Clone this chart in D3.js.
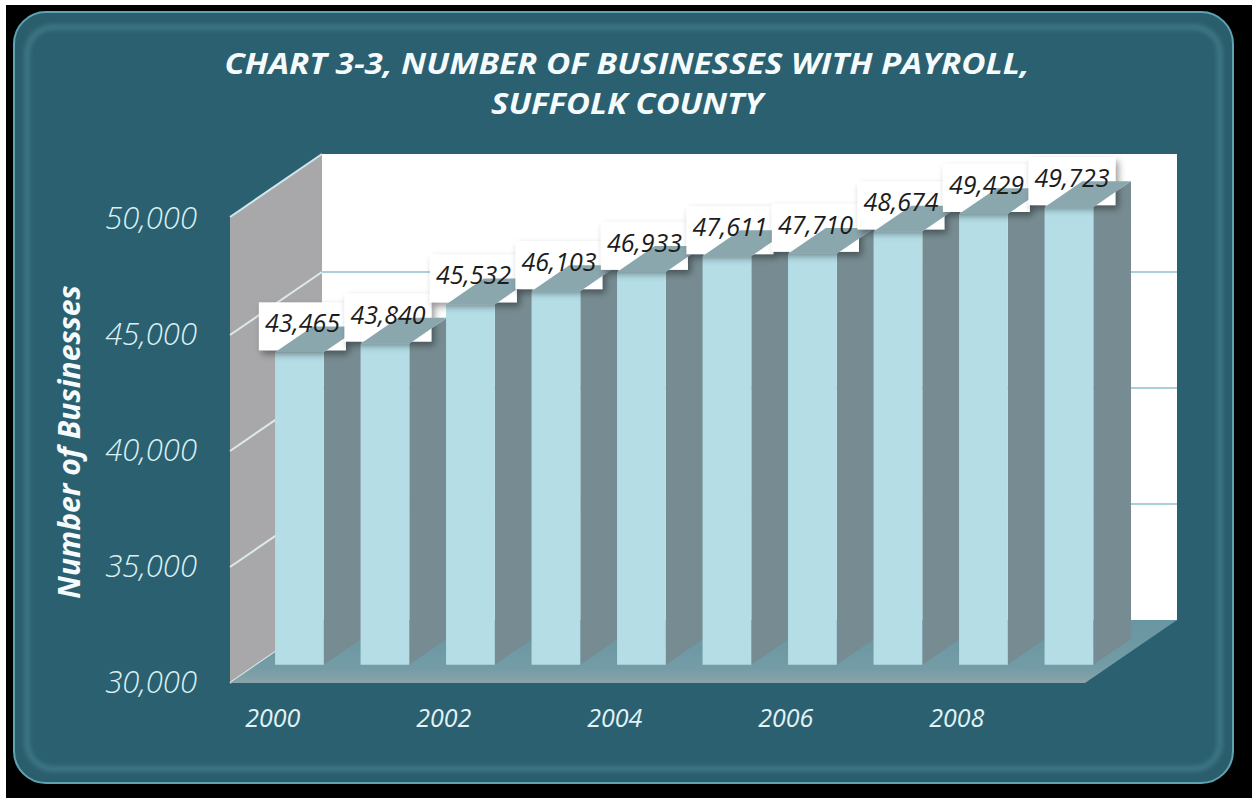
<!DOCTYPE html>
<html>
<head>
<meta charset="utf-8">
<script src="https://cdn.jsdelivr.net/npm/d3@7"></script>
<style>
  html, body { margin: 0; padding: 0; background: #ffffff; }
  svg { display: block; }
</style>
</head>
<body>
<svg id="chart" width="1252" height="802"></svg>
<script>
// Number of businesses with payroll, Suffolk County, 2000-2009
const years = ["2000", "2001", "2002", "2003", "2004", "2005", "2006", "2007", "2008", "2009"];
const businesses = [43465, 43840, 45532, 46103, 46933, 47611, 47710, 48674, 49429, 49723];
const yTicks = [30000, 35000, 40000, 45000, 50000];
const xTickLabels = ["2000", "2002", "2004", "2006", "2008"];
const titleLines = ["CHART 3-3, NUMBER OF BUSINESSES WITH PAYROLL,", "SUFFOLK COUNTY"];
const yTitle = "Number of Businesses";

const svg = d3.select("#chart");
const W = 1252, H = 802;

// front plane of the 3-D box and its receding depth
const front = { left: 230, right: 1085, top: 219, bottom: 683 };
const depthVec = { dx: 92, dy: -63 };
const barNear = 0.29, barFar = 0.70;   // bars sit in the middle of the depth

const x = d3.scaleBand()
  .domain(years)
  .range([front.left, front.right])
  .paddingInner(0.43)
  .paddingOuter(0.215);

const y = d3.scaleLinear()
  .domain([30000, 50000])
  .range([front.bottom, front.top]);

const proj = (px, py, d) => [px + d * depthVec.dx, py + d * depthVec.dy];
const poly = pts => "M" + pts.map(p => p.join(",")).join("L") + "Z";

const defs = svg.append("defs");

const shadow = defs.append("filter").attr("id", "labelShadow")
  .attr("x", "-30%").attr("y", "-30%").attr("width", "160%").attr("height", "170%");
shadow.append("feDropShadow")
  .attr("dx", 3).attr("dy", 4).attr("stdDeviation", 3.5)
  .attr("flood-color", "#000").attr("flood-opacity", 0.4);

const soft = defs.append("filter").attr("id", "soft")
  .attr("x", "-5%").attr("y", "-5%").attr("width", "110%").attr("height", "110%");
soft.append("feGaussianBlur").attr("stdDeviation", 2.5);

const floorGrad = defs.append("linearGradient").attr("id", "floorGrad")
  .attr("x1", 0).attr("y1", 0).attr("x2", 0).attr("y2", 1);
floorGrad.append("stop").attr("offset", "0%").attr("stop-color", "#6896a2");
floorGrad.append("stop").attr("offset", "75%").attr("stop-color", "#739ca6");
floorGrad.append("stop").attr("offset", "100%").attr("stop-color", "#8aa3a8");

// ---------- outer frame ----------
svg.append("rect").attr("x", 6).attr("y", 5).attr("width", W - 6).attr("height", H - 9)
  .attr("fill", "#000");
svg.append("rect")
  .attr("x", 14).attr("y", 12).attr("width", 1219).attr("height", 771)
  .attr("rx", 32).attr("ry", 32)
  .attr("fill", "#2a5e6d").attr("stroke", "#5ea3b2").attr("stroke-width", 2);
svg.append("rect")
  .attr("x", 27).attr("y", 27).attr("width", 1193).attr("height", 742)
  .attr("rx", 26).attr("ry", 26)
  .attr("fill", "#2b6070").attr("stroke", "#447f8e").attr("stroke-width", 4)
  .attr("filter", "url(#soft)");

// ---------- title ----------
const titleWidths = [805, 272];
svg.append("g").selectAll("text")
  .data(titleLines)
  .join("text")
  .attr("x", 627)
  .attr("y", (d, i) => 74 + i * 40)
  .attr("text-anchor", "middle")
  .attr("font-family", "'Open Sans', 'Noto Sans', sans-serif")
  .attr("font-weight", 700)
  .attr("font-style", "italic")
  .attr("font-size", 28)
  .attr("textLength", (d, i) => titleWidths[i])
  .attr("lengthAdjust", "spacingAndGlyphs")
  .attr("fill", "#f5fbfc")
  .text(d => d);

// ---------- walls and floor ----------
const plotG = svg.append("g");

// back wall
const bwTL = proj(front.left, front.top - 2, 1), bwBR = proj(front.right, front.bottom, 1);
plotG.append("path")
  .attr("d", poly([bwTL, [bwBR[0], bwTL[1]], bwBR, [bwTL[0], bwBR[1]]]))
  .attr("fill", "#ffffff");

// back wall gridlines
plotG.append("g").selectAll("line")
  .data(yTicks.slice(1, -1))
  .join("line")
  .attr("x1", d => proj(front.left, y(d), 1)[0])
  .attr("x2", d => proj(front.right, y(d), 1)[0])
  .attr("y1", d => proj(front.left, y(d), 1)[1])
  .attr("y2", d => proj(front.left, y(d), 1)[1])
  .attr("stroke", "#a9cfda").attr("stroke-width", 2);

// left side wall
plotG.append("path")
  .attr("d", poly([
    [front.left, y(30000)], [front.left, front.top - 2],
    proj(front.left, front.top - 2, 1), proj(front.left, y(30000), 1)
  ]))
  .attr("fill", "#a8a8aa");
plotG.append("line")
  .attr("x1", front.left).attr("y1", front.top - 2)
  .attr("x2", proj(front.left, front.top - 2, 1)[0]).attr("y2", proj(front.left, front.top - 2, 1)[1])
  .attr("stroke", "#cfe7ec").attr("stroke-width", 2);
plotG.append("g").selectAll("line")
  .data(yTicks.slice(0, -1))
  .join("line")
  .attr("x1", front.left).attr("y1", d => y(d))
  .attr("x2", d => proj(front.left, y(d), 1)[0])
  .attr("y2", d => proj(front.left, y(d), 1)[1])
  .attr("stroke", "#dde9ec").attr("stroke-width", 2);

// floor
plotG.append("path")
  .attr("d", poly([
    [front.left, front.bottom], [front.right, front.bottom],
    proj(front.right, front.bottom, 1), proj(front.left, front.bottom, 1)
  ]))
  .attr("fill", "url(#floorGrad)");

// ---------- bars ----------
const barsG = plotG.append("g");
const labelTexts = [];
businesses.forEach((v, i) => {
  const x0 = x(years[i]), x1 = x0 + x.bandwidth();
  const yt = y(v), yb = y(30000);
  const g = barsG.append("g");
  // right side
  g.append("path")
    .attr("d", poly([proj(x1, yt, barNear), proj(x1, yt, barFar), proj(x1, yb, barFar), proj(x1, yb, barNear)]))
    .attr("fill", "#778c92");
  // front
  g.append("path")
    .attr("d", poly([proj(x0, yt, barNear), proj(x1, yt, barNear), proj(x1, yb, barNear), proj(x0, yb, barNear)]))
    .attr("fill", "#b4dde6");
  // value label plate
  const top = proj((x0 + x1) / 2, yt, barNear);
  const cx = top[0] + 3;
  const label = d3.format(",")(v);
  const plate = g.append("rect")
    .attr("y", top[1] - 50)
    .attr("height", 48)
    .attr("fill", "#ffffff")
    .attr("filter", "url(#labelShadow)");
  labelTexts.push({ cx, y: top[1] - 20, label, plate });
  // top face
  g.append("path")
    .attr("d", poly([proj(x0, yt, barNear), proj(x1, yt, barNear), proj(x1, yt, barFar), proj(x0, yt, barFar)]))
    .attr("fill", "#8ba7ae");
});

// value labels
const labelG = plotG.append("g");
labelTexts.forEach(d => {
  const t = labelG.append("text")
    .attr("x", d.cx).attr("y", d.y)
    .attr("text-anchor", "middle")
    .attr("font-family", "'Open Sans', 'Noto Sans', sans-serif")
    .attr("font-style", "italic")
    .attr("font-size", 25)
    .attr("fill", "#1c1c1c")
    .text(d.label);
  const w = t.node().getComputedTextLength() + 12;
  d.plate.attr("x", d.cx - w / 2).attr("width", w);
});

// ---------- axes ----------
const yAxis = svg.append("g")
  .attr("transform", `translate(${front.left},0)`)
  .call(d3.axisLeft(y).tickValues(yTicks).tickFormat(d3.format(",")).tickSize(0).tickPadding(33));
yAxis.select(".domain").remove();
yAxis.selectAll("text")
  .attr("font-family", "'Open Sans', 'Noto Sans', sans-serif")
  .attr("font-style", "italic")
  .attr("font-weight", 300)
  .attr("font-size", 31)
  .attr("fill", "#dcf0f4");

const xAxis = svg.append("g")
  .attr("transform", "translate(0,703)")
  .call(d3.axisBottom(x).tickValues(xTickLabels).tickSize(0).tickPadding(6));
xAxis.select(".domain").remove();
xAxis.selectAll("text")
  .attr("font-family", "'Open Sans', 'Noto Sans', sans-serif")
  .attr("font-style", "italic")
  .attr("font-size", 25)
  .attr("fill", "#e2f2f5");

svg.append("text")
  .attr("transform", "translate(80,442) rotate(-90)")
  .attr("text-anchor", "middle")
  .attr("font-family", "'Open Sans', 'Noto Sans', sans-serif")
  .attr("font-weight", 700)
  .attr("font-style", "italic")
  .attr("font-size", 30)
  .attr("fill", "#f5fbfc")
  .text(yTitle);
</script>
</body>
</html>
